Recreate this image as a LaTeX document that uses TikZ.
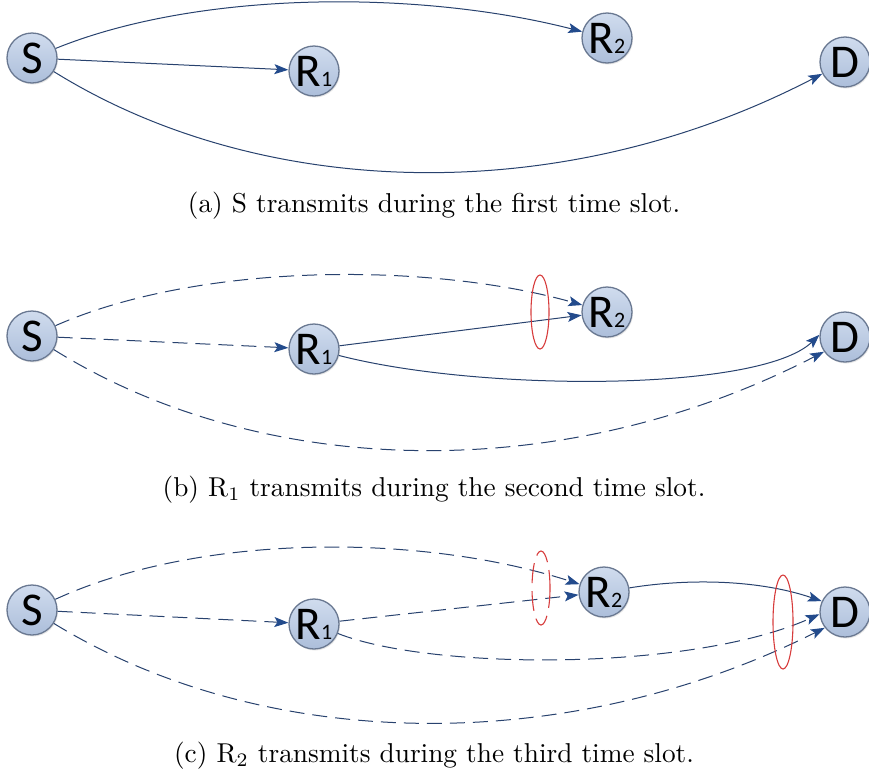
\documentclass[tikz,border=0pt]{standalone}
\usepackage{fontspec}
\newfontfamily\nodefont{Carlito}
\usetikzlibrary{arrows.meta,shadows}
\definecolor{edgeblue}{RGB}{40,66,110}
\definecolor{tipblue}{RGB}{35,75,140}
\definecolor{nodeborder}{RGB}{105,120,145}
\definecolor{nodetop}{RGB}{208,220,238}
\definecolor{nodebot}{RGB}{172,190,218}
\definecolor{ellred}{RGB}{215,60,60}
\tikzset{
  netnode/.style={circle, minimum size=50pt, inner sep=0pt, draw=nodeborder, line width=1.3pt,
    top color=nodetop, bottom color=nodebot,
    drop shadow={opacity=0.2, shadow xshift=1pt, shadow yshift=-1.5pt},
    font=\nodefont\fontsize{47}{47}\selectfont},
  link/.style={draw=edgeblue, line width=1pt, -{Stealth[length=14pt,width=10pt,inset=3pt,color=tipblue]}},
  dlink/.style={link, dash pattern=on 15pt off 8pt},
  ring/.style={draw=ellred, line width=1.1pt},
  dring/.style={ring, dash pattern=on 20pt off 8pt},
  captext/.style={font=\normalsize, scale=2.73}
}
\newcommand{\sub}[1]{{\fontsize{22}{22}\selectfont #1}}
\begin{document}
\begin{tikzpicture}[x=1pt,y=-1pt]
\useasboundingbox (0,0) rectangle (869,782);
% ---------- panel (a)
\node[netnode] (Sa)  at (32,58)  {S};
\node[netnode] (R1a) at (314,71) {R\sub{1}};
\node[netnode] (R2a) at (607,38) {R\sub{2}};
\node[netnode] (Da)  at (845,62) {D};
\draw[link] (Sa) .. controls (200,-10) and (420,-10) .. (R2a);
\draw[link] (Sa) -- (R1a);
\draw[link] (Sa) .. controls (260,200) and (560,210) .. (Da);
\node[captext] (capa) at (434,206) {(a) S transmits during the first time slot.};
% ---------- panel (b)
\node[netnode] (Sb)  at (32,336)  {S};
\node[netnode] (R1b) at (314,349) {R\sub{1}};
\node[netnode] (R2b) at (607,312) {R\sub{2}};
\node[netnode] (Db)  at (845,337) {D};
\draw[dlink] (Sb) .. controls (200,262) and (430,262) .. (R2b);
\draw[dlink] (Sb) -- (R1b);
\draw[dlink] (Sb) .. controls (260,478) and (560,488) .. (Db.215);
\draw[link] (R1b) -- (R2b);
\draw[link] (R1b) .. controls (480,392) and (760,392) .. (Db.175);
\draw[ring] (540,312) ellipse [x radius=9, y radius=37];
\node[captext] (capb) at (434,490) {(b) R$_1$ transmits during the second time slot.};
% ---------- panel (c)
\node[netnode] (Sc)  at (32,610)  {S};
\node[netnode] (R1c) at (314,624) {R\sub{1}};
\node[netnode] (R2c) at (604,592) {R\sub{2}};
\node[netnode] (Dc)  at (845,612) {D};
\draw[dlink] (Sc) .. controls (200,533) and (420,533) .. (R2c);
\draw[dlink] (Sc) -- (R1c);
\draw[dlink] (Sc) .. controls (260,750) and (560,760) .. (Dc.218);
\draw[dlink] (R1c) .. controls (430,670) and (690,672) .. (Dc.185);
\draw[dlink] (R1c) -- (R2c);
\draw[link] (R2c) .. controls (690,578) and (760,580) .. (Dc.155);
\draw[dring] (541,588) ellipse [x radius=9, y radius=37];
\draw[ring] (783,622) ellipse [x radius=10, y radius=47];
\node[captext] (capc) at (434,756) {(c) R$_2$ transmits during the third time slot.};
\end{tikzpicture}
\end{document}
